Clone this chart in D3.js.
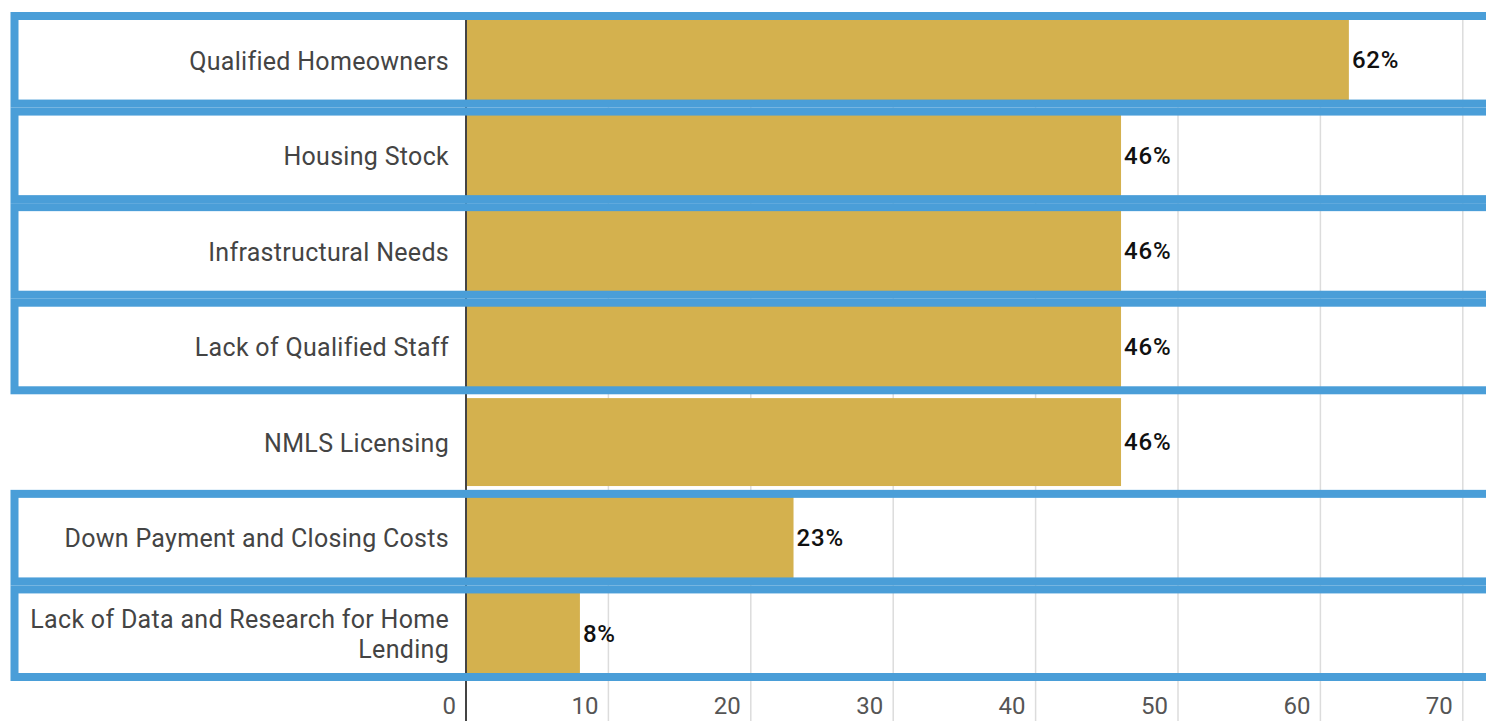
<!DOCTYPE html>
<html>
<head>
<meta charset="utf-8">
<script src="https://cdn.jsdelivr.net/npm/d3@7"></script>
<style>
  body { margin: 0; background: #fff; }
  svg { display: block; font-family: Roboto, "Noto Sans", sans-serif; }
</style>
</head>
<body>
<div id="chart"></div>
<script>
const svgWidth = 1486;
const svgHeight = 721;

// data
const categories = [
  "Qualified Homeowners",
  "Housing Stock",
  "Infrastructural Needs",
  "Lack of Qualified Staff",
  "NMLS Licensing",
  "Down Payment and Closing Costs",
  "Lack of Data and Research for Home Lending"
];
const values = [62, 46, 46, 46, 46, 23, 8];
const xTicks = [0, 10, 20, 30, 40, 50, 60, 70];
// rows outlined with a blue box
const highlighted = [
  "Qualified Homeowners",
  "Housing Stock",
  "Infrastructural Needs",
  "Lack of Qualified Staff",
  "Down Payment and Closing Costs",
  "Lack of Data and Research for Home Lending"
];

const margin = { top: 12, right: 0, bottom: 40, left: 466 };

const svg = d3.select("#chart")
  .append("svg")
  .attr("width", svgWidth)
  .attr("height", svgHeight);

// about 14.24 px per percentage point
const x = d3.scaleLinear()
  .domain([0, (svgWidth - margin.left) / 14.24])
  .range([margin.left, svgWidth]);

const y = d3.scaleBand()
  .domain(categories)
  .range([margin.top, svgHeight - margin.bottom])
  .paddingInner(0.08)
  .paddingOuter(0.04);

// gridlines
svg.append("g")
  .selectAll("line")
  .data(xTicks.slice(1))
  .enter().append("line")
  .attr("x1", d => x(d))
  .attr("x2", d => x(d))
  .attr("y1", margin.top)
  .attr("y2", svgHeight)
  .attr("stroke", "#dcdcdc")
  .attr("stroke-width", 1.5);

// bars
svg.selectAll(".bar")
  .data(categories)
  .enter().append("rect")
  .attr("class", "bar")
  .attr("x", x(0))
  .attr("y", d => y(d))
  .attr("width", (d, i) => x(values[i]) - x(0))
  .attr("height", y.bandwidth())
  .attr("fill", "#d4b14e");

// value labels
svg.selectAll(".val")
  .data(categories)
  .enter().append("text")
  .attr("class", "val")
  .attr("x", (d, i) => x(values[i]) + 3)
  .attr("y", d => y(d) + y.bandwidth() / 2)
  .attr("dy", "0.35em")
  .attr("font-size", 24)
  .attr("font-weight", 500)
  .attr("letter-spacing", 0.8)
  .attr("fill", "#111")
  .text((d, i) => values[i] + "%");

// category labels, wrapped when too long
const labelWidth = 430;
svg.selectAll(".cat")
  .data(categories)
  .enter().append("text")
  .attr("class", "cat")
  .attr("text-anchor", "end")
  .attr("font-size", 25)
  .attr("letter-spacing", 0.3)
  .attr("fill", "#444")
  .each(function(d) {
    const t = d3.select(this);
    const words = d.split(" ");
    const lines = [];
    let line = [];
    const probe = t.append("tspan");
    words.forEach(w => {
      line.push(w);
      probe.text(line.join(" "));
      if (probe.node().getComputedTextLength() > labelWidth && line.length > 1) {
        line.pop();
        lines.push(line.join(" "));
        line = [w];
      }
    });
    lines.push(line.join(" "));
    probe.remove();
    const cy = y(d) + y.bandwidth() / 2;
    const lh = 30;
    lines.forEach((l, i) => {
      t.append("tspan")
        .attr("x", margin.left - 17)
        .attr("y", cy + 1 + (i - (lines.length - 1) / 2) * lh)
        .attr("dy", "0.35em")
        .text(l);
    });
  });

// x tick labels (right aligned just left of each gridline)
svg.selectAll(".tick-label")
  .data(xTicks)
  .enter().append("text")
  .attr("class", "tick-label")
  .attr("x", d => x(d) - 10)
  .attr("y", 706)
  .attr("dy", "0.35em")
  .attr("text-anchor", "end")
  .attr("font-size", 24)
  .attr("fill", "#555")
  .text(d => d);

// baseline axis
svg.append("line")
  .attr("x1", x(0))
  .attr("x2", x(0))
  .attr("y1", margin.top)
  .attr("y2", svgHeight)
  .attr("stroke", "#444")
  .attr("stroke-width", 2);

// blue highlight boxes
const gap = y.step() - y.bandwidth();
svg.selectAll(".box")
  .data(highlighted)
  .enter().append("rect")
  .attr("class", "box")
  .attr("x", 14.5)
  .attr("y", d => y(d) - gap / 2 + 4)
  .attr("width", svgWidth + 20)
  .attr("height", y.step() - 8)
  .attr("fill", "none")
  .attr("stroke", "#4a9ed8")
  .attr("stroke-width", 8);
</script>
</body>
</html>
